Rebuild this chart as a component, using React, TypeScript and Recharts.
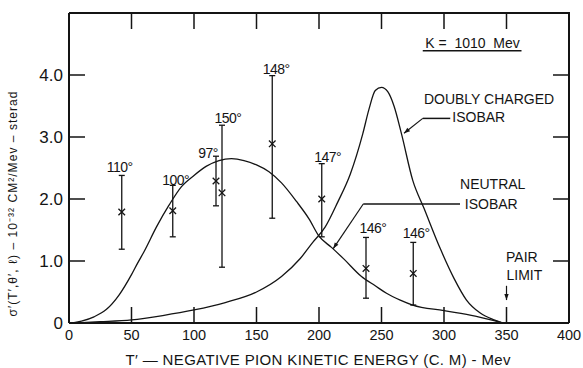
import {
  ComposedChart,
  Line,
  Scatter,
  XAxis,
  YAxis,
  ErrorBar,
  ReferenceLine,
  Label,
} from "recharts"

// doubly charged isobar curve
const doublyX = [3, 25, 50, 75, 100, 125, 150, 170, 185, 195, 205, 215, 225, 235, 240, 245, 250, 255, 260, 266, 275, 284, 297, 308, 318, 329, 340, 347]
const doublyY = [0, 0.02, 0.05, 0.12, 0.21, 0.33, 0.5, 0.75, 1.04, 1.3, 1.55, 1.95, 2.4, 3.05, 3.45, 3.75, 3.8, 3.73, 3.5, 3.05, 2.3, 1.85, 1.2, 0.72, 0.37, 0.16, 0.05, 0]

// neutral isobar curve
const neutralX = [3, 10, 20, 30, 40, 50, 55, 60, 70, 80, 90, 100, 110, 120, 130, 140, 150, 160, 170, 182, 192, 200, 210, 220, 234, 245, 254, 265, 275, 300, 325, 347]
const neutralY = [0, 0.03, 0.1, 0.22, 0.45, 0.78, 0.97, 1.15, 1.55, 1.9, 2.2, 2.38, 2.53, 2.62, 2.65, 2.62, 2.55, 2.44, 2.26, 1.96, 1.68, 1.4, 1.22, 1.03, 0.75, 0.6, 0.48, 0.37, 0.29, 0.2, 0.11, 0]

// measured points with error bars
const pointX = [42.2, 83, 117.6, 122.4, 162.6, 202.2, 237.6, 275.4]
const pointY = [1.79, 1.81, 2.29, 2.1, 2.89, 2.0, 0.88, 0.8]
const pointLow = [1.19, 1.39, 1.89, 0.9, 1.69, 1.39, 0.4, 0.29]
const pointHigh = [2.38, 2.22, 2.69, 3.19, 3.99, 2.57, 1.38, 1.3]
const angleLabels = ["110°", "100°", "97°", "150°", "148°", "147°", "146°", "146°"]
// pixel nudges of the angle labels off the top of each bar
const labelNudge = [[-2, -3], [3, 0], [-8, 2], [6, -2], [4, -2], [6, -2], [7, -4], [3, -4]]

const xTicks = [0, 50, 100, 150, 200, 250, 300, 350, 400]
const innerXTicks = [50, 100, 150, 200, 250, 300, 350]
const yTicks = [0, 1, 2, 3, 4]
const innerYTicks = [1, 2, 3, 4]

// text notes, in data units
const notes = [
  { x: 322.8, y: 4.52, text: "K =\u00a0\u00a01010\u00a0\u00a0Mev", anchor: "middle" },
  { x: 336, y: 3.62, text: "DOUBLY CHARGED", anchor: "middle" },
  { x: 327.8, y: 3.32, text: "ISOBAR", anchor: "middle" },
  { x: 339, y: 2.25, text: "NEUTRAL", anchor: "middle" },
  { x: 337.8, y: 1.92, text: "ISOBAR", anchor: "middle" },
  { x: 349.6, y: 1.07, text: "PAIR", anchor: "start" },
  { x: 350, y: 0.77, text: "LIMIT", anchor: "start" },
]

const leaders = [
  { from: [283, 4.39], to: [362, 4.39], arrow: false },
  { from: [283, 3.3], to: [305, 3.3], arrow: false },
  { from: [283, 3.3], to: [268, 3.06], arrow: true },
  { from: [235.4, 1.92], to: [312.8, 1.92], arrow: false },
  { from: [235.4, 1.92], to: [211.4, 1.2], arrow: true },
  { from: [350, 0.6], to: [350, 0.37], arrow: true },
]

const INK = "#141414"
const FONT = "'Liberation Sans', Arial, sans-serif"

// layout of the chart box
const W = 583
const H = 368
const MARGIN = { top: 13, right: 14, bottom: 0, left: 0 }
const Y_AXIS_W = 69
const X_AXIS_H = 45
const X_MAX = 400
const Y_MAX = 5
const TICK = 16

const plotLeft = MARGIN.left + Y_AXIS_W
const plotTop = MARGIN.top
const plotRight = W - MARGIN.right
const plotBottom = H - MARGIN.bottom - X_AXIS_H
const px = (v: number) => plotLeft + (v / X_MAX) * (plotRight - plotLeft)
const py = (v: number) => plotBottom - (v / Y_MAX) * (plotBottom - plotTop)

const doublyData = doublyX.map((x, i) => ({ x, y: doublyY[i] }))
const neutralData = neutralX.map((x, i) => ({ x, y: neutralY[i] }))
const pointData = pointX.map((x, i) => ({
  x,
  y: pointY[i],
  err: [pointY[i] - pointLow[i], pointHigh[i] - pointY[i]],
}))
const angleData = pointX.map((x, i) => ({
  x,
  y: pointHigh[i],
  text: angleLabels[i],
  dx: labelNudge[i][0],
  dy: labelNudge[i][1],
}))

const crossShape = (p: any) => {
  const { cx, cy } = p
  const s = 3.3
  return (
    <path
      d={`M${cx - s},${cy - s}L${cx + s},${cy + s}M${cx - s},${cy + s}L${cx + s},${cy - s}`}
      stroke={INK}
      strokeWidth={1.3}
      fill="none"
    />
  )
}

const angleShape = (p: any) => (
  <text
    x={p.cx + p.payload.dx}
    y={p.cy + p.payload.dy}
    textAnchor="middle"
    fontSize={14}
    fontFamily={FONT}
    fill={INK}
    letterSpacing={-0.5}
  >
    {p.payload.text}
  </text>
)

const noteShape = (p: any) => (
  <text
    x={p.cx}
    y={p.cy}
    dy="0.36em"
    textAnchor={p.payload.anchor}
    fontSize={14}
    fontFamily={FONT}
    fill={INK}
  >
    {p.payload.text}
  </text>
)

const arrowLine = (p: any) => {
  const { x1, y1, x2, y2 } = p
  const a = Math.atan2(y2 - y1, x2 - x1)
  const L = 6
  const Wd = 2.2
  const bx = x2 - L * Math.cos(a)
  const by = y2 - L * Math.sin(a)
  const pts = `${x2},${y2} ${bx + Wd * Math.sin(a)},${by - Wd * Math.cos(a)} ${bx - Wd * Math.sin(a)},${by + Wd * Math.cos(a)}`
  return (
    <g>
      <line x1={x1} y1={y1} x2={x2} y2={y2} stroke={INK} strokeWidth={1.2} />
      <polygon points={pts} fill={INK} />
    </g>
  )
}

// box edges (top, right) and inward ticks on all four sides
const frameMarks = () => (
  <g>
    <path
      d={`M${plotLeft},${plotTop}L${plotRight},${plotTop}L${plotRight},${plotBottom}`}
      stroke={INK}
      strokeWidth={2}
      fill="none"
    />
    {innerXTicks.map((v) => (
      <path
        key={`x${v}`}
        d={`M${px(v)},${plotBottom}V${plotBottom - TICK}M${px(v)},${plotTop}V${plotTop + TICK}`}
        stroke={INK}
        strokeWidth={1.5}
      />
    ))}
    {innerYTicks.map((v) => (
      <path
        key={`y${v}`}
        d={`M${plotLeft},${py(v)}H${plotLeft + TICK}M${plotRight},${py(v)}H${plotRight - TICK}`}
        stroke={INK}
        strokeWidth={1.5}
      />
    ))}
  </g>
)

const XTitle = () => (
  <g>
    {frameMarks()}
    <text
      x={318}
      y={364.5}
      textAnchor="middle"
      textLength={385}
      lengthAdjust="spacing"
      fontSize={15}
      fontFamily={FONT}
      fill={INK}
    >
      T′ — NEGATIVE PION KINETIC ENERGY (C. M) - Mev
    </text>
  </g>
)

const YTitle = () => (
  <text
    x={16.5}
    y={204}
    transform="rotate(-90 16.5 204)"
    textAnchor="middle"
    textLength={225}
    lengthAdjust="spacing"
    fontSize={12}
    fontFamily={FONT}
    fill={INK}
  >
    σ′(T′,θ′, ℓ) – 10⁻³² CM²/Mev – sterad
  </text>
)

export default function App() {
  return (
    <div style={{ position: "absolute", left: 0, top: 0, width: W, height: H, background: "#fff" }}>
      <ComposedChart width={W} height={H} margin={MARGIN}>
        <XAxis
          type="number"
          dataKey="x"
          domain={[0, X_MAX]}
          ticks={xTicks}
          interval={0}
          height={X_AXIS_H}
          tickSize={0}
          tickMargin={7}
          tickLine={false}
          axisLine={{ stroke: INK, strokeWidth: 2 }}
          tick={{ fill: INK, fontSize: 14.5, fontFamily: FONT }}
        >
          <Label content={XTitle} />
        </XAxis>
        <YAxis
          type="number"
          dataKey="y"
          domain={[0, Y_MAX]}
          ticks={yTicks}
          interval={0}
          width={Y_AXIS_W}
          tickSize={0}
          tickMargin={6}
          tickLine={false}
          tickFormatter={(v: number) => (v === 0 ? "0" : v.toFixed(1))}
          axisLine={{ stroke: INK, strokeWidth: 2 }}
          tick={{ fill: INK, fontSize: 17, fontFamily: FONT }}
        >
          <Label content={YTitle} />
        </YAxis>

        <Line
          data={doublyData}
          dataKey="y"
          type="monotone"
          stroke={INK}
          strokeWidth={1.3}
          dot={false}
          activeDot={false}
          isAnimationActive={false}
        />
        <Line
          data={neutralData}
          dataKey="y"
          type="monotone"
          stroke={INK}
          strokeWidth={1.3}
          dot={false}
          activeDot={false}
          isAnimationActive={false}
        />

        <Scatter data={pointData} dataKey="y" shape={crossShape} isAnimationActive={false}>
          <ErrorBar dataKey="err" direction="y" width={3} stroke={INK} strokeWidth={1.3} isAnimationActive={false} />
        </Scatter>
        <Scatter data={angleData} dataKey="y" shape={angleShape} isAnimationActive={false} />
        <Scatter data={notes} dataKey="y" shape={noteShape} isAnimationActive={false} />

        {leaders.map((l, i) => (
          <ReferenceLine
            key={`l${i}`}
            segment={[
              { x: l.from[0], y: l.from[1] },
              { x: l.to[0], y: l.to[1] },
            ]}
            ifOverflow="visible"
            stroke={INK}
            strokeWidth={l.arrow ? 1.2 : 1.5}
            shape={l.arrow ? arrowLine : undefined}
          />
        ))}
      </ComposedChart>
    </div>
  )
}
